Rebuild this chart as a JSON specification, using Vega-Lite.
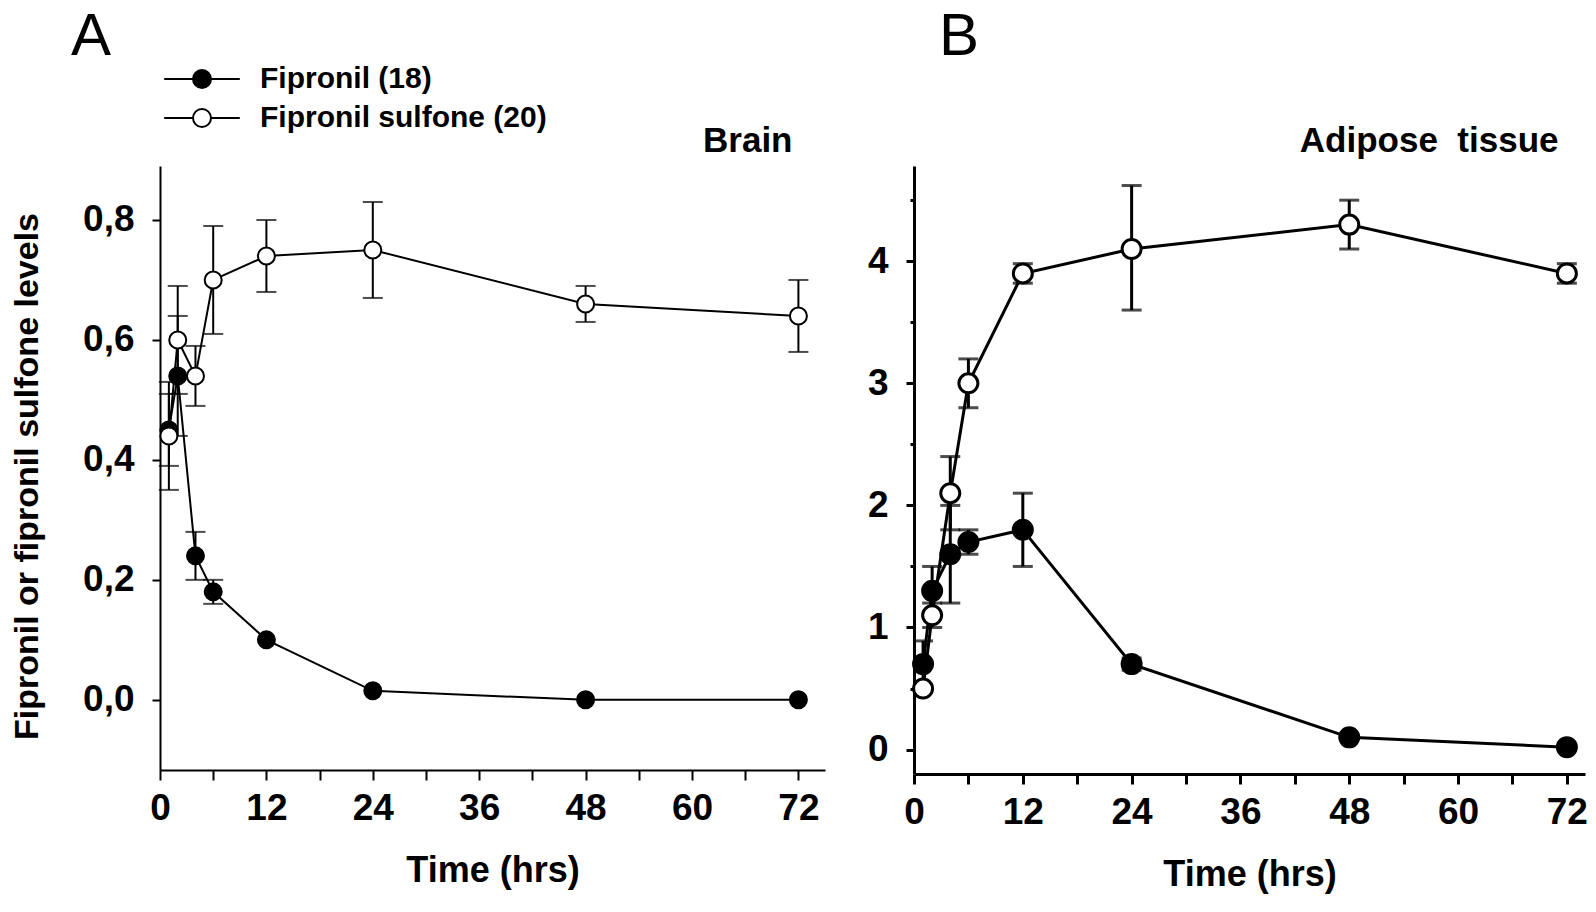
{
  "$schema": "https://vega.github.io/schema/vega-lite/v6.json",
  "background": "white",
  "padding": {"left": 10, "top": 7, "right": 5, "bottom": 5},
  "config": {
    "font": "Liberation Sans",
    "view": {"stroke": null},
    "concat": {"spacing": 42},
    "axis": {"grid": false, "domainColor": "black", "tickColor": "black", "labelColor": "black", "titleColor": "black", "labelFont": "Liberation Sans", "titleFont": "Liberation Sans", "labelFontWeight": "bold", "titleFontWeight": "bold", "labelFontSize": 37, "titleFontSize": 36},
    "title": {"font": "Liberation Sans", "color": "black"}
  },
  "resolve": {"scale": {"fill": "independent", "x": "independent", "y": "independent"}, "legend": {"fill": "independent"}},
  "datasets": {
    "brain": [
      {"compound": "Fipronil (18)", "t": 1, "v": 0.45, "lo": 0.39, "hi": 0.51},
      {"compound": "Fipronil (18)", "t": 2, "v": 0.54, "lo": 0.44, "hi": 0.64},
      {"compound": "Fipronil (18)", "t": 4, "v": 0.24, "lo": 0.2, "hi": 0.28},
      {"compound": "Fipronil (18)", "t": 6, "v": 0.18, "lo": 0.16, "hi": 0.2},
      {"compound": "Fipronil (18)", "t": 12, "v": 0.1},
      {"compound": "Fipronil (18)", "t": 24, "v": 0.015},
      {"compound": "Fipronil (18)", "t": 48, "v": 0.0},
      {"compound": "Fipronil (18)", "t": 72, "v": 0.0},
      {"compound": "Fipronil sulfone (20)", "t": 1, "v": 0.44, "lo": 0.35, "hi": 0.53},
      {"compound": "Fipronil sulfone (20)", "t": 2, "v": 0.6, "lo": 0.51, "hi": 0.69},
      {"compound": "Fipronil sulfone (20)", "t": 4, "v": 0.54, "lo": 0.49, "hi": 0.59},
      {"compound": "Fipronil sulfone (20)", "t": 6, "v": 0.7, "lo": 0.61, "hi": 0.79},
      {"compound": "Fipronil sulfone (20)", "t": 12, "v": 0.74, "lo": 0.68, "hi": 0.8},
      {"compound": "Fipronil sulfone (20)", "t": 24, "v": 0.75, "lo": 0.67, "hi": 0.83},
      {"compound": "Fipronil sulfone (20)", "t": 48, "v": 0.66, "lo": 0.63, "hi": 0.69},
      {"compound": "Fipronil sulfone (20)", "t": 72, "v": 0.64, "lo": 0.58, "hi": 0.7}
    ],
    "adipose": [
      {"compound": "Fipronil (18)", "t": 1, "v": 0.7, "lo": 0.51, "hi": 0.89},
      {"compound": "Fipronil (18)", "t": 2, "v": 1.3, "lo": 1.1, "hi": 1.5},
      {"compound": "Fipronil (18)", "t": 4, "v": 1.6, "lo": 1.2, "hi": 2.0},
      {"compound": "Fipronil (18)", "t": 6, "v": 1.7, "lo": 1.6, "hi": 1.8},
      {"compound": "Fipronil (18)", "t": 12, "v": 1.8, "lo": 1.5, "hi": 2.1},
      {"compound": "Fipronil (18)", "t": 24, "v": 0.7, "lo": 0.65, "hi": 0.75},
      {"compound": "Fipronil (18)", "t": 48, "v": 0.1},
      {"compound": "Fipronil (18)", "t": 72, "v": 0.02},
      {"compound": "Fipronil sulfone (20)", "t": 1, "v": 0.5},
      {"compound": "Fipronil sulfone (20)", "t": 2, "v": 1.1, "lo": 1.0, "hi": 1.2},
      {"compound": "Fipronil sulfone (20)", "t": 4, "v": 2.1, "lo": 1.8, "hi": 2.4},
      {"compound": "Fipronil sulfone (20)", "t": 6, "v": 3.0, "lo": 2.8, "hi": 3.2},
      {"compound": "Fipronil sulfone (20)", "t": 12, "v": 3.9, "lo": 3.82, "hi": 3.98},
      {"compound": "Fipronil sulfone (20)", "t": 24, "v": 4.1, "lo": 3.6, "hi": 4.62},
      {"compound": "Fipronil sulfone (20)", "t": 48, "v": 4.3, "lo": 4.1, "hi": 4.5},
      {"compound": "Fipronil sulfone (20)", "t": 72, "v": 3.9, "lo": 3.82, "hi": 3.98}
    ]
  },
  "hconcat": [
    {
      "width": 665,
      "height": 604,
      "data": {"name": "brain"},
      "title": {"text": "A", "anchor": "start", "frame": "group", "dx": -89, "offset": -4, "fontSize": 60, "fontWeight": "normal"},
      "resolve": {"axis": {"x": "independent", "y": "independent"}},
      "layer": [
        {
          "mark": {"type": "line", "color": "black", "strokeWidth": 2},
          "encoding": {
            "x": {"field": "t", "type": "quantitative", "scale": {"domain": [0, 75], "nice": false, "zero": false},
              "axis": {"orient": "bottom", "values": [0, 6, 12, 18, 24, 30, 36, 42, 48, 54, 60, 66, 72], "labelExpr": "datum.value % 12 === 0 ? datum.label : ''", "tickSize": 10, "tickWidth": 2, "domainWidth": 2, "labelPadding": 10, "labelFlush": false, "labelOverlap": false, "title": "Time (hrs)", "titlePadding": 27}},
            "y": {"field": "v", "type": "quantitative", "scale": {"domain": [-0.117, 0.89], "nice": false, "zero": false},
              "axis": {"orient": "left", "values": [0, 0.2, 0.4, 0.6, 0.8], "labelExpr": "replace(format(datum.value, '.1f'), '.', ',')", "tickSize": 8, "tickWidth": 2, "domainWidth": 2, "labelPadding": 18, "labelOverlap": false, "title": "Fipronil or fipronil sulfone levels", "titleFontSize": 34, "titlePadding": 38, "titleY": 310}},
            "detail": {"field": "compound"}
          }
        },
        {
          "mark": {"type": "rule", "color": "black", "strokeWidth": 2},
          "encoding": {
            "x": {"field": "t", "type": "quantitative", "axis": null},
            "y": {"field": "lo", "type": "quantitative", "axis": null},
            "y2": {"field": "hi"}
          }
        },
        {
          "mark": {"type": "tick", "orient": "horizontal", "color": "black", "size": 20, "thickness": 2},
          "encoding": {
            "x": {"field": "t", "type": "quantitative", "axis": null},
            "y": {"field": "lo", "type": "quantitative", "axis": null}
          }
        },
        {
          "mark": {"type": "tick", "orient": "horizontal", "color": "black", "size": 20, "thickness": 2},
          "encoding": {
            "x": {"field": "t", "type": "quantitative", "axis": null},
            "y": {"field": "hi", "type": "quantitative", "axis": null}
          }
        },
        {
          "mark": {"type": "point", "shape": "circle", "filled": true, "stroke": "black", "strokeWidth": 2, "size": 289, "opacity": 1},
          "encoding": {
            "x": {"field": "t", "type": "quantitative",
              "axis": {"orient": "top", "domain": false, "ticks": false, "labels": false, "title": "Brain", "titleFontSize": 35, "titleAlign": "right", "titleX": 632, "titlePadding": 8}},
            "y": {"field": "v", "type": "quantitative", "axis": null},
            "fill": {"field": "compound", "type": "nominal",
              "scale": {"domain": ["Fipronil (18)", "Fipronil sulfone (20)"], "range": ["black", "white"]},
              "legend": {"orient": "none", "legendX": 27, "legendY": -102, "title": null, "symbolType": "M-4.2,0H-1M1,0H4.2M-1,0A1,1 0 1,1 1,0A1,1 0 1,1 -1,0Z", "symbolSize": 324, "symbolStrokeColor": "black", "symbolStrokeWidth": 2, "labelFont": "Liberation Sans", "labelFontSize": 30, "labelFontWeight": "bold", "labelColor": "black", "labelLimit": 0, "labelOffset": 43, "rowPadding": 9, "padding": 0}}
          }
        }
      ]
    },
    {
      "width": 671,
      "height": 608,
      "data": {"name": "adipose"},
      "title": {"text": "B", "anchor": "start", "frame": "group", "dx": 25, "offset": 55, "fontSize": 60, "fontWeight": "normal"},
      "resolve": {"axis": {"x": "independent", "y": "independent"}},
      "layer": [
        {
          "mark": {"type": "line", "color": "black", "strokeWidth": 3},
          "encoding": {
            "x": {"field": "t", "type": "quantitative", "scale": {"domain": [0, 74], "nice": false, "zero": false},
              "axis": {"orient": "bottom", "values": [0, 6, 12, 18, 24, 30, 36, 42, 48, 54, 60, 66, 72], "labelExpr": "datum.value % 12 === 0 ? datum.label : ''", "tickSize": 10, "tickWidth": 3, "domainWidth": 3, "labelPadding": 10, "labelFlush": false, "labelOverlap": false, "title": "Time (hrs)", "titlePadding": 27}},
            "y": {"field": "v", "type": "quantitative", "scale": {"domain": [-0.2, 4.78], "nice": false, "zero": false},
              "axis": {"orient": "left", "values": [0, 0.5, 1, 1.5, 2, 2.5, 3, 3.5, 4, 4.5], "labelExpr": "datum.value % 1 === 0 ? format(datum.value, 'd') : ''", "tickSize": {"condition": {"test": "datum.value % 1 === 0", "value": 8}, "value": 4}, "tickWidth": 3, "domainWidth": 3, "labelPadding": 18, "labelOverlap": false, "title": null}},
            "detail": {"field": "compound"}
          }
        },
        {
          "mark": {"type": "rule", "color": "black", "strokeWidth": 3},
          "encoding": {
            "x": {"field": "t", "type": "quantitative", "axis": null},
            "y": {"field": "lo", "type": "quantitative", "axis": null},
            "y2": {"field": "hi"}
          }
        },
        {
          "mark": {"type": "tick", "orient": "horizontal", "color": "black", "size": 20, "thickness": 3},
          "encoding": {
            "x": {"field": "t", "type": "quantitative", "axis": null},
            "y": {"field": "lo", "type": "quantitative", "axis": null}
          }
        },
        {
          "mark": {"type": "tick", "orient": "horizontal", "color": "black", "size": 20, "thickness": 3},
          "encoding": {
            "x": {"field": "t", "type": "quantitative", "axis": null},
            "y": {"field": "hi", "type": "quantitative", "axis": null}
          }
        },
        {
          "mark": {"type": "point", "shape": "circle", "filled": true, "stroke": "black", "strokeWidth": 3, "size": 361, "opacity": 1},
          "encoding": {
            "x": {"field": "t", "type": "quantitative",
              "axis": {"orient": "top", "domain": false, "ticks": false, "labels": false, "title": "Adipose\u00a0 tissue", "titleFontSize": 35, "titleAlign": "right", "titleX": 644, "titlePadding": 8}},
            "y": {"field": "v", "type": "quantitative", "axis": null},
            "fill": {"field": "compound", "type": "nominal",
              "scale": {"domain": ["Fipronil (18)", "Fipronil sulfone (20)"], "range": ["black", "white"]},
              "legend": null}
          }
        }
      ]
    }
  ]
}
